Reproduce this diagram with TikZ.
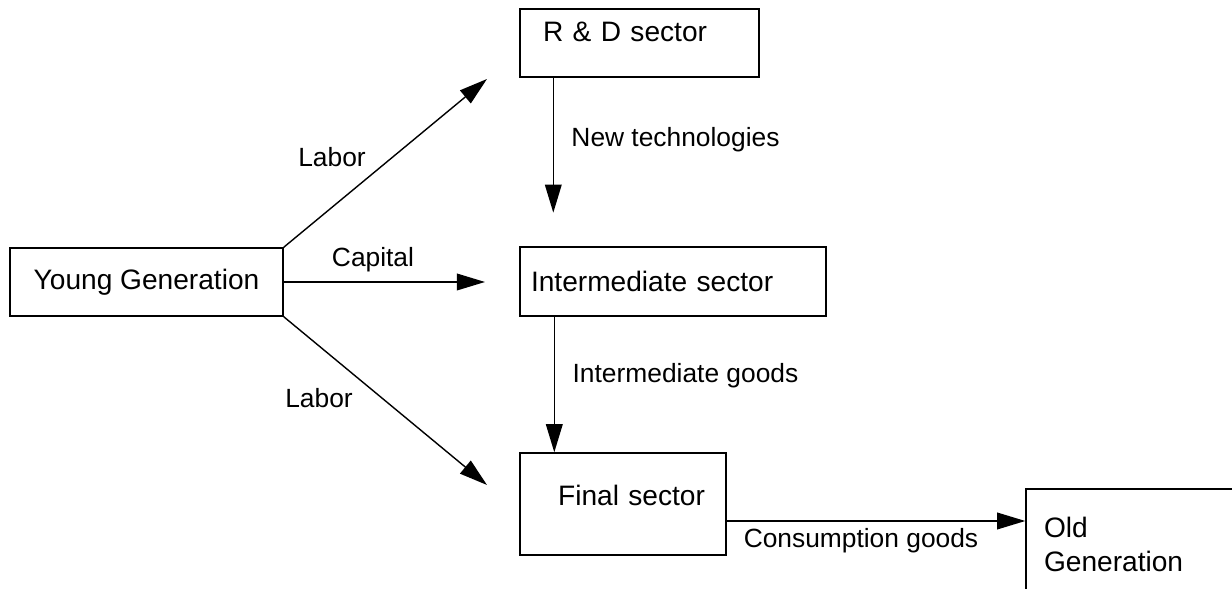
\documentclass[tikz,border=0pt]{standalone}
\usepackage{fontspec}
\setmainfont{Liberation Sans}
\usetikzlibrary{arrows.meta}

\begin{document}
\begin{tikzpicture}[>={Triangle[length=16pt,width=9.5pt]}, line width=0.8pt,
    sector/.style={draw, rectangle, inner sep=0pt, font=\fontsize{16}{19}\selectfont},
    flowlabel/.style={anchor=base, inner sep=0pt, font=\fontsize{15}{18}\selectfont}]
            \useasboundingbox (0,0) rectangle (24.64,11.78);
            \clip (0,0) rectangle (24.64,11.78);

            % the generations and the sectors
            \node[sector, minimum width=5.46cm, minimum height=1.36cm] (young) at (2.93,6.14) {Young Generation};
            \node[sector, minimum height=1.36cm, text width=3.86cm, inner xsep=0.46cm, align=left, text depth=0.44cm] (rd) at (12.79,10.92) {R \& D sector};
            \node[sector, minimum height=1.38cm, text width=5.68cm, inner xsep=0.22cm, align=left] (inter) at (13.46,6.15) {Intermediate sector};
            \node[sector, minimum height=2.04cm, text width=3.28cm, inner xsep=0.42cm, align=right, text depth=0.36cm] (final) at (12.46,1.70) {Final sector};
            \node[sector, minimum height=2.22cm, text width=3.66cm, inner xsep=0.36cm, align=left] (old) at (22.71,0.89) {Old\\Generation};

            % loose arrow ends
            \coordinate (labortip) at (9.74,10.20);
            \coordinate (capitaltip) at (9.70,6.14);
            \coordinate (laborfinaltip) at (9.74,2.08);
            \coordinate (techtip) at ([xshift=0.68cm,yshift=-2.70cm]rd.south west);

            % flows out of the young generation
            \draw[->] (young.north east) -- (labortip);
            \draw[->] (young.east) -- (capitaltip);
            \draw[->] (young.south east) -- (laborfinaltip);

            % flows between the sectors
            \draw[->] ([xshift=0.68cm]rd.south west) -- (techtip);
            \draw[->] ([xshift=0.70cm]inter.south west) -- ([xshift=0.70cm]final.north west);
            \draw[->] ([yshift=-0.34cm]final.east) -- ([yshift=-0.34cm]final.east -| old.west);

            % text on the flows
            \node[flowlabel] (laborrd) at (6.64,8.45) {Labor};
            \node[flowlabel] (capital) at (7.46,6.45) {Capital};
            \node[flowlabel] (laborfinal) at (6.38,3.63) {Labor};
            \node[flowlabel] (newtech) at (13.51,8.85) {New technologies};
            \node[flowlabel] (intergoods) at (13.71,4.13) {Intermediate goods};
            \node[flowlabel] (consgoods) at (17.22,0.83) {Consumption goods};

        \end{tikzpicture}
\end{document}
